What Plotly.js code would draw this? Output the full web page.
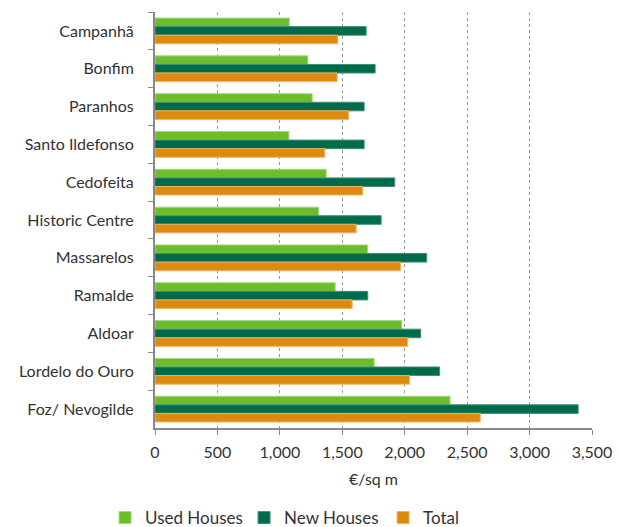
<!DOCTYPE html>
<html>
<head>
<meta charset="utf-8">
<script src="https://cdn.plot.ly/plotly-3.0.1.min.js"></script>
<style>html,body{margin:0;padding:0;background:#fff;}</style>
</head>
<body>
<div id="chart" style="width:618px;height:527px;"></div>
<script>
const categories = ["Campanhã","Bonfim","Paranhos","Santo Ildefonso","Cedofeita","Historic Centre","Massarelos","Ramalde","Aldoar","Lordelo do Ouro","Foz/ Nevogilde"];
const usedHouses = [1075,1224,1259,1072,1371,1310,1704,1443,1976,1755,2363];
const newHouses  = [1691,1763,1675,1675,1920,1811,2176,1704,2128,2280,3389];
const totalHouses = [1464,1459,1550,1360,1664,1611,1966,1579,2024,2038,2605];
const xTicks = [0,500,1000,1500,2000,2500,3000,3500];

const traces = [
  {name:"Used Houses", y:categories, x:usedHouses, type:"bar", orientation:"h", marker:{color:"#6cbd2b", line:{color:"#a6d77e", width:1}}},
  {name:"New Houses", y:categories, x:newHouses, type:"bar", orientation:"h", marker:{color:"#006b4c", line:{color:"#3f8f76", width:1}}},
  {name:"Total", y:categories, x:totalHouses, type:"bar", orientation:"h", marker:{color:"#de8a10", line:{color:"#eeb360", width:1}}}
];

const layout = {
  width:618, height:527,
  margin:{l:155, r:26, t:12, b:99, autoexpand:false},
  paper_bgcolor:"#fff", plot_bgcolor:"#fff",
  font:{family:"Lato, 'Noto Sans', sans-serif", size:16, color:"#333"},
  barmode:"group", bargap:0.32, bargroupgap:0,
  showlegend:true,
  legend:{orientation:"h", xref:"container", yref:"container", x:0.17, xanchor:"left", y:0.017, yanchor:"middle",
    font:{size:17}, entrywidth:94, entrywidthmode:"pixels", traceorder:"normal"},
  xaxis:{range:[0,3500], tickvals:xTicks, tickformat:",", showgrid:true, gridcolor:"#999", griddash:"dot", gridwidth:1,
    zeroline:false, showline:true, linecolor:"#888", linewidth:2, ticks:"outside", ticklen:5, tickcolor:"#888", tickwidth:1,
    ticklabelstandoff:4, automargin:false,
    title:{text:"€/sq m", standoff:14, font:{size:16}}, fixedrange:true},
  yaxis:{autorange:"reversed", type:"category", showline:true, linecolor:"#888", linewidth:2, ticks:"outside", tickson:"boundaries",
    ticklen:5, tickcolor:"#888", tickwidth:1, showgrid:false, ticklabelstandoff:16, automargin:false, fixedrange:true}
};

Plotly.newPlot("chart", traces, layout, {displayModeBar:false, staticPlot:true});
</script>
</body>
</html>
